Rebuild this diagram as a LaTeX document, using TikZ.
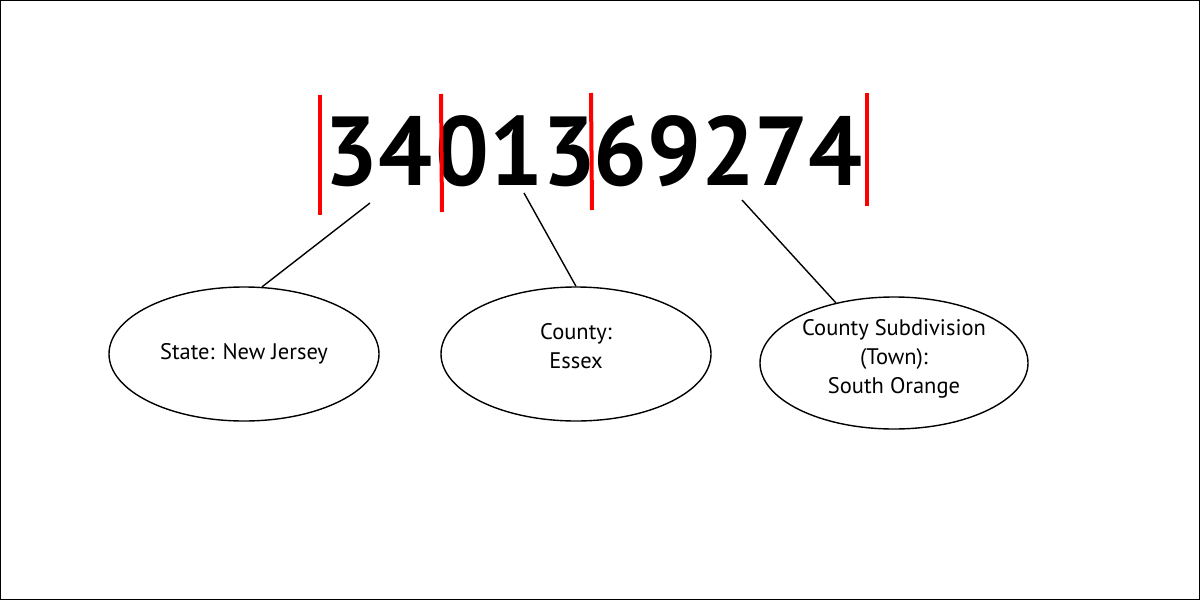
\documentclass[tikz,border=0pt]{standalone}
\usepackage{fontspec}
\setmainfont{PT Sans}
\newfontfamily\digitfont[FakeStretch=0.97]{PT Sans Bold}
\usetikzlibrary{shapes.geometric}
\begin{document}
\begin{tikzpicture}[x=1pt,y=-1pt,
  bubble/.style={draw=black,line width=1.4pt,ellipse,minimum width=270pt,minimum height=134pt,inner sep=0pt},
  lbl/.style={align=center,font=\fontsize{22.5}{29}\selectfont,inner sep=0pt},
  digits/.style={font=\digitfont\fontsize{98}{98}\selectfont,inner sep=0pt,anchor=base},
  bar/.style={draw=red,line width=4pt},
  conn/.style={draw=black,line width=1.4pt}]
\useasboundingbox (0,0) rectangle (1200,600);
\draw[line width=1.2pt] (0.6,0.6) rectangle (1199.4,599.4);
% digit groups
\node[digits] (g1) at (378,185) {34};
\node[digits] (g2) at (516,185) {013};
\node[digits] (g3) at (728,185) {69274};
% red separators
\coordinate (b1t) at (320,95);  \coordinate (b1b) at (320,215);
\coordinate (b2t) at (441,94);  \coordinate (b2b) at (442,212);
\coordinate (b3t) at (591,93);  \coordinate (b3b) at (592,210);
\coordinate (b4t) at (867,93);  \coordinate (b4b) at (867,206);
\draw[bar] (b1t) -- (b1b);
\draw[bar] (b2t) -- (b2b);
\draw[bar] (b3t) -- (b3b);
\draw[bar] (b4t) -- (b4b);
% ellipses
\node[bubble] (e1) at (244,354) {};
\node[bubble] (e2) at (576,354) {};
\node[bubble,minimum width=268pt,minimum height=132pt] (e3) at (894,363) {};
\node[lbl] (t1) at (244,354) {State: New Jersey};
\node[lbl] (t2) at (576,346) {County:\\Essex};
\node[lbl] (t3) at (894,359) {County Subdivision\\(Town):\\South Orange};
% connectors
\coordinate (c1) at (370,203);
\coordinate (c2) at (524,193);
\coordinate (c3) at (742,200);
\draw[conn] (c1) -- (e1.75);
\draw[conn] (c2) -- (e2.north);
\draw[conn] (c3) -- (e3.134);
\end{tikzpicture}
\end{document}
